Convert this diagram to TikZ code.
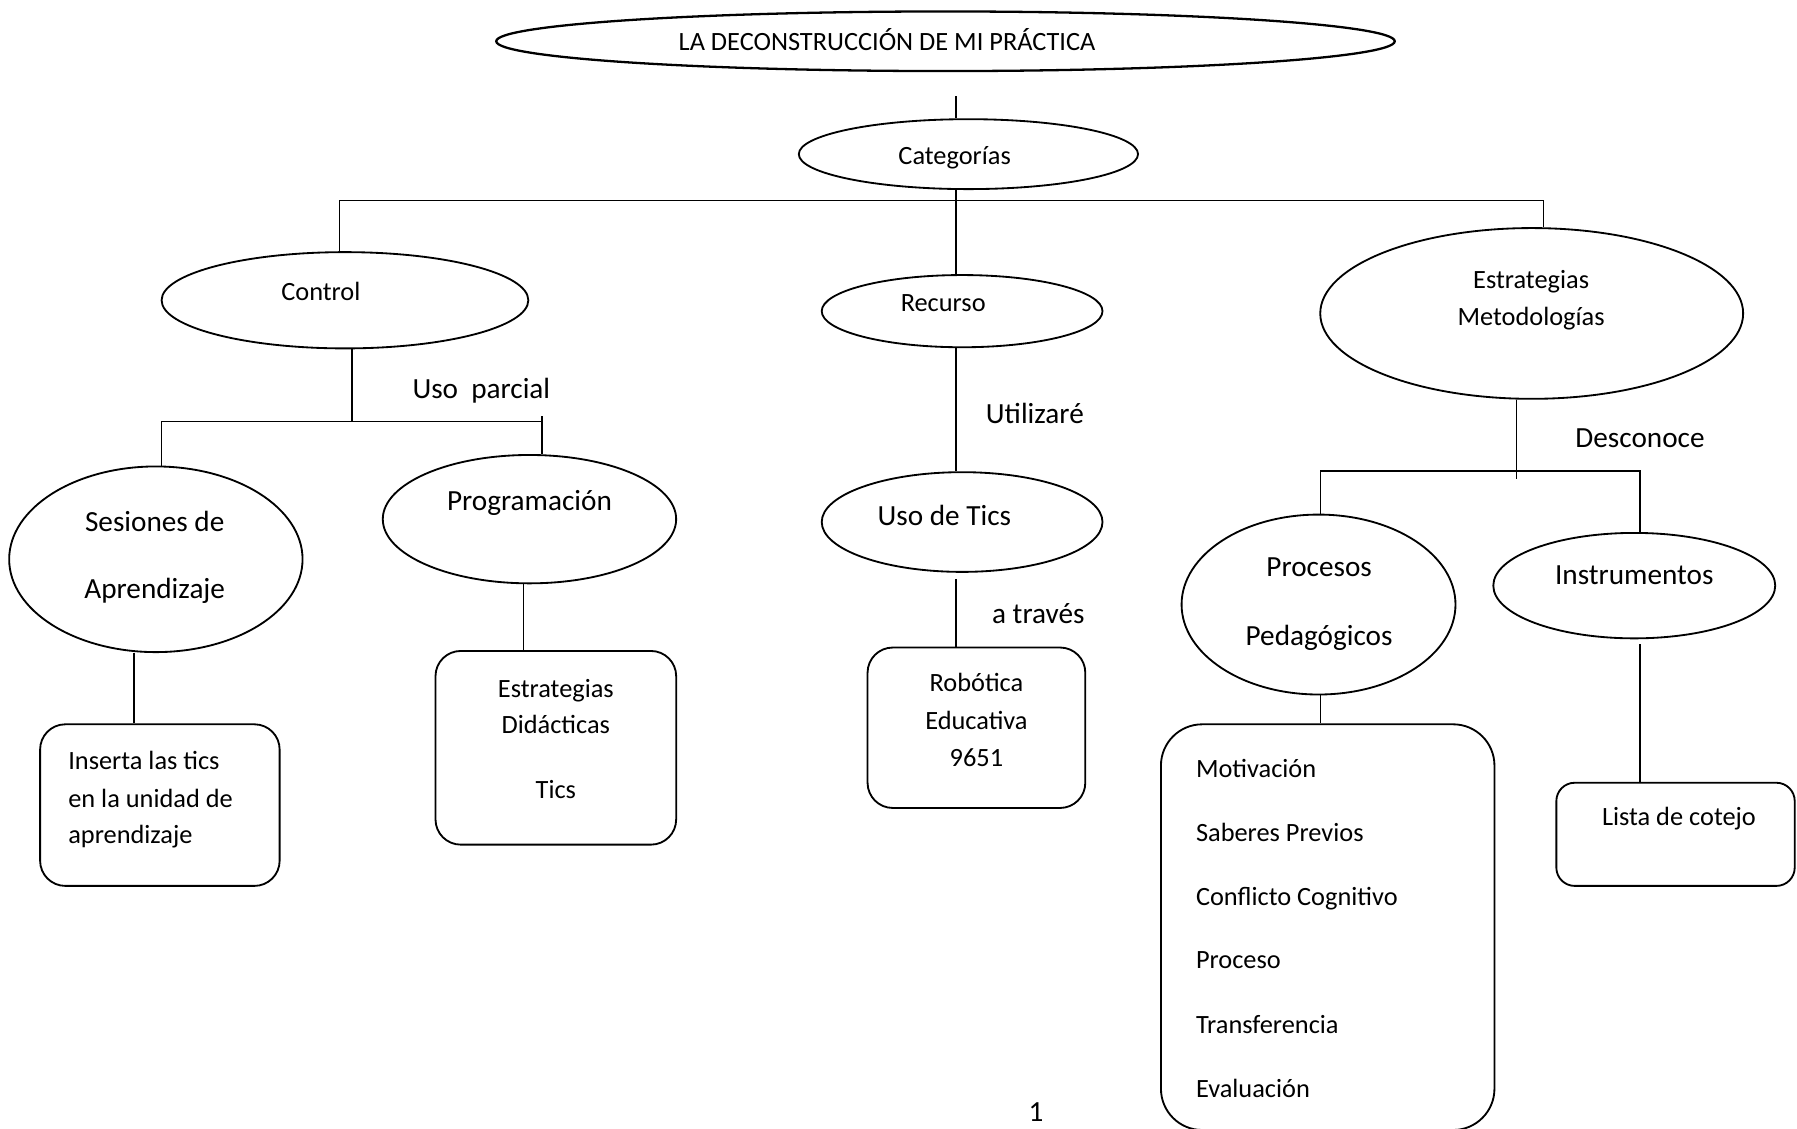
\documentclass[tikz,border=0pt]{standalone}
\usepackage{fontspec}
\setmainfont{Carlito}
\usetikzlibrary{shapes.geometric}
\begin{document}
\begin{tikzpicture}[x=0.5pt,y=-0.5pt,line width=0.6pt,
  ell/.style={draw,ellipse,inner sep=0pt,line width=0.8pt},
  rbox/.style={draw,rectangle,inner sep=0pt,line width=0.8pt,rounded corners=11pt},
  sm/.style={font=\fontsize{11.5}{14}\selectfont,inner sep=0pt,anchor=base,yshift=-0.7pt},
  smw/.style={sm,anchor=base west},
  lg/.style={font=\fontsize{12.75}{15}\selectfont,inner sep=0pt,anchor=base,yshift=-0.7pt}]
\fill[white] (0,0) rectangle (1568,985);
\useasboundingbox (0,0) rectangle (1568,985);

% ellipses
\node[ell,line width=1pt,minimum width=392pt,minimum height=26pt] (tit) at (825,36) {};
\node[ell,minimum width=148pt,minimum height=30.5pt] (cat) at (845,134.5) {};
\node[ell,minimum width=160pt,minimum height=42pt] (ctl) at (301,262) {};
\node[ell,minimum width=122.5pt,minimum height=31.5pt] (rec) at (839.5,271.5) {};
\node[ell,minimum width=184.5pt,minimum height=74.5pt] (est) at (1336.5,273.5) {};
\node[ell,minimum width=128pt,minimum height=81pt] (ses) at (136,488) {};
\node[ell,minimum width=128pt,minimum height=56pt] (prg) at (462,453) {};
\node[ell,minimum width=122.5pt,minimum height=43.5pt] (uso) at (839.5,455.5) {};
\node[ell,minimum width=119.5pt,minimum height=78.5pt] (pro) at (1150.5,527.5) {};
\node[ell,minimum width=123pt,minimum height=46pt] (ins) at (1426,511) {};

% boxes
\node[rbox,minimum width=104.5pt,minimum height=70.5pt] (bins) at (139.5,702.5) {};
\node[rbox,minimum width=105pt,minimum height=84.5pt] (bdid) at (485,652.5) {};
\node[rbox,minimum width=95pt,minimum height=70pt] (brob) at (852,635) {};
\node[rbox,rounded corners=18pt,minimum width=145.5pt,minimum height=177pt] (bpro) at (1158.5,809) {};
\node[rbox,rounded corners=8pt,minimum width=104pt,minimum height=45pt] (blis) at (1462,728) {};

% junction coordinates
\coordinate (t1) at (834,84);
\coordinate (hL) at (296,175);
\coordinate (hR) at (1347,175);
\coordinate (c1) at (307,368);
\coordinate (cL) at (141,368);
\coordinate (cR) at (473,368);
\coordinate (cRt) at (473,363);
\coordinate (s1) at (117,0);
\coordinate (p1) at (457,0);
\coordinate (u1) at (834,505);
\coordinate (e1) at (1323,418);
\coordinate (eL) at (1152,411);
\coordinate (eR) at (1431,411);
\coordinate (i1) at (1431,562);

% connectors
\draw (t1) -- (cat.north -| t1);
\draw (cat.south -| t1) -- (rec.north -| t1);
\draw (ctl.north -| hL) -- (hL) -- (hR) -- (est.north -| hR);
\draw (ctl.south -| c1) -- (c1);
\draw (ses.north -| cL) -- (cL) -- (cR);
\draw (cRt) -- (prg.north -| cR);
\draw (ses.south -| s1) -- (bins.north -| s1);
\draw (prg.south -| p1) -- (bdid.north -| p1);
\draw (rec.south -| t1) -- (uso.north -| t1);
\draw (u1) -- (brob.north -| u1);
\draw (est.south -| e1) -- (e1);
\draw (pro.north -| eL) -- (eL) -- (eR) -- (ins.north -| eR);
\draw (pro.south -| eL) -- (bpro.north -| eL);
\draw (i1) -- (blis.north -| i1);

% texts in ellipses
\node[sm] (titT) at (774,43) {LA DECONSTRUCCIÓN DE MI PRÁCTICA};
\node[sm] (catT) at (833,142) {Categorías};
\node[sm] (ctlT) at (280,261) {Control};
\node[sm] (recT) at (823,270) {Recurso};
\node[sm] (estT1) at (1336,250) {Estrategias};
\node[sm] (estT2) at (1336,283) {Metodologías};
\node[lg] (sesT1) at (135,462) {Sesiones de};
\node[lg] (sesT2) at (135,521) {Aprendizaje};
\node[lg] (prgT) at (462,444) {Programación};
\node[lg] (usoT) at (824,457) {Uso de Tics};
\node[lg] (proT1) at (1151,502) {Procesos};
\node[lg] (proT2) at (1151,562) {Pedagógicos};
\node[lg] (insT) at (1426,509) {Instrumentos};

% connector labels
\node[lg] (lUso) at (420,346) {Uso\ \ parcial};
\node[lg] (lUti) at (903,368) {Utilizaré};
\node[lg] (lTra) at (906,543) {a través};
\node[lg] (lDes) at (1431,389) {Desconoce};

% texts in boxes
\node[smw] (ins1) at (59,670) {Inserta las tics};
\node[smw] (ins2) at (59,703) {en la unidad de};
\node[smw] (ins3) at (59,735) {aprendizaje};
\node[sm] (did1) at (485,607) {Estrategias};
\node[sm] (did2) at (485,639) {Didácticas};
\node[sm] (did3) at (485,695) {Tics};
\node[sm] (rob1) at (852,602) {Robótica};
\node[sm] (rob2) at (852,635) {Educativa};
\node[sm] (rob3) at (852,667) {9651};
\node[smw] (m1) at (1043,677) {Motivación};
\node[smw] (m2) at (1043,733) {Saberes Previos};
\node[smw] (m3) at (1043,789) {Conflicto Cognitivo};
\node[smw] (m4) at (1043,844) {Proceso};
\node[smw] (m5) at (1043,900) {Transferencia};
\node[smw] (m6) at (1043,956) {Evaluación};
\node[sm] (lis) at (1465,719) {Lista de cotejo};

% page number
\node[lg,yshift=0.7pt] (pag) at (904,979) {1};
\end{tikzpicture}
\end{document}
